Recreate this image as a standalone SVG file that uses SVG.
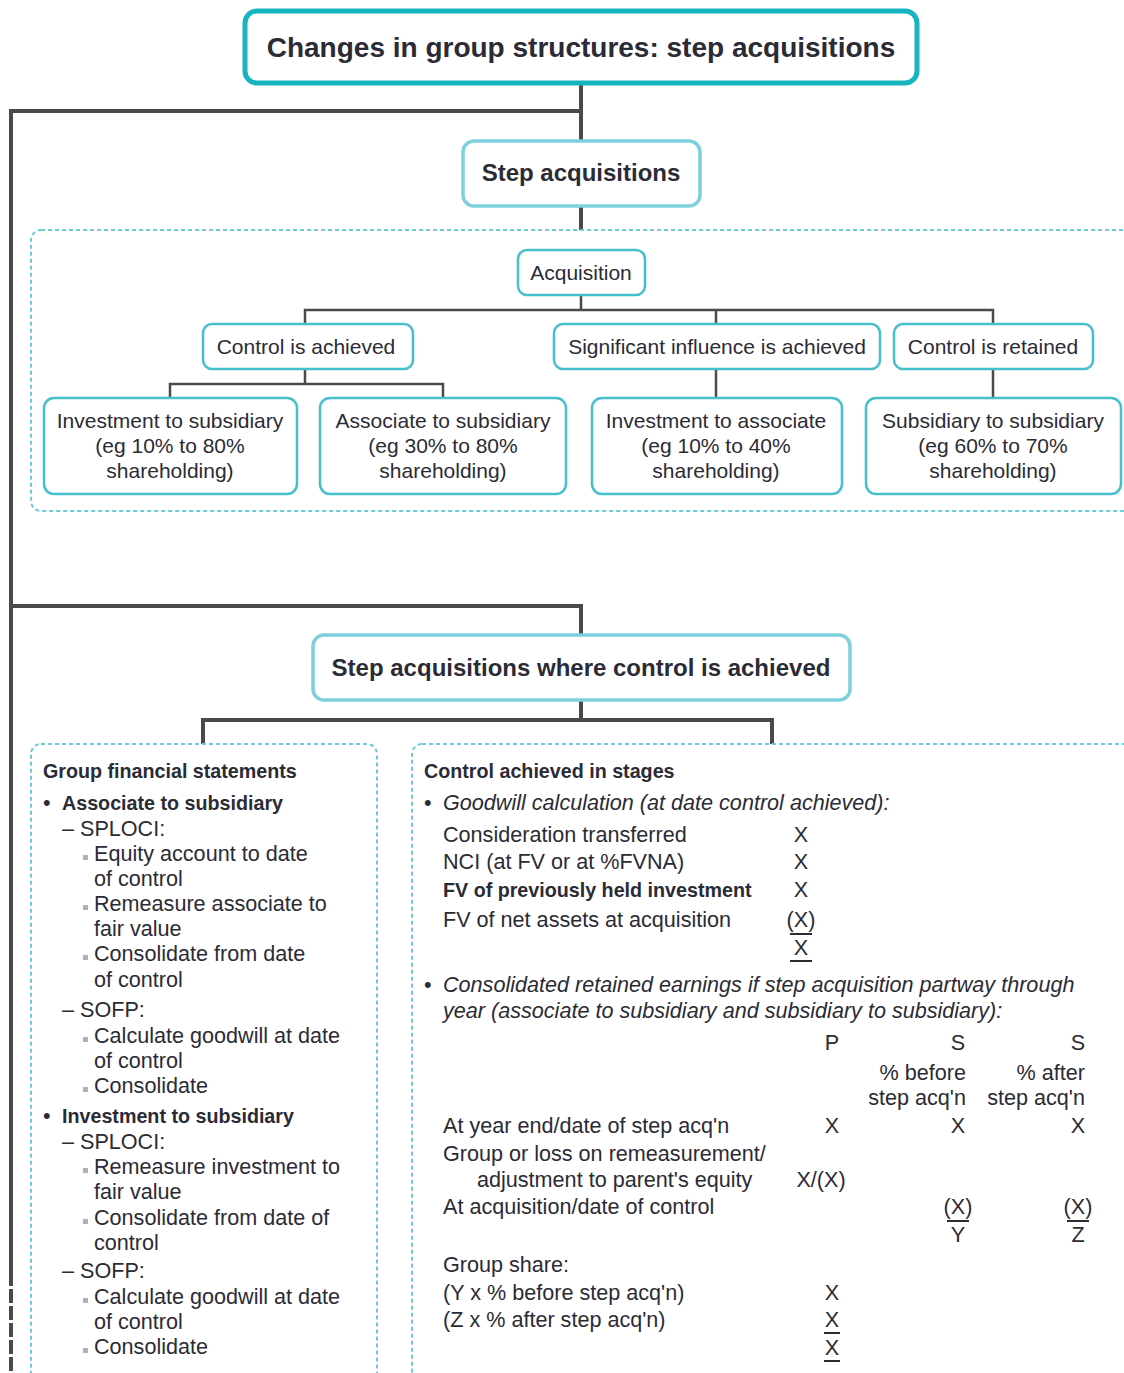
<svg xmlns="http://www.w3.org/2000/svg" width="1124" height="1373" viewBox="0 0 1124 1373">
<style>
text{font-family:"Liberation Sans",Arial,sans-serif;fill:#2b2b36;font-size:21px}
.b{font-weight:bold;font-size:20px}
.h{font-weight:bold;font-size:24px}
.tt{font-weight:bold;font-size:28px}
.p text{font-size:21.6px}
.p .b{font-size:19.7px}
.i{font-style:italic}
.m{text-anchor:middle}
.e{text-anchor:end}
.ttl{fill:#fff;stroke:#17b3bf;stroke-width:5}
.hd{fill:#fff;stroke:#7ed0db;stroke-width:3.5}
.nd{fill:#fff;stroke:#45bfca;stroke-width:2.5}
.ct{fill:none;stroke:#6ccbd7;stroke-width:2;stroke-dasharray:4 3}
.cn{fill:none;stroke:#4a4a4a}
.ul{stroke:#2b2b36;stroke-width:2}
.sq{fill:#b0b0b8}
</style>
<rect width="1124" height="1373" fill="#fff"/>
<g id="connectors">
<path class="cn" stroke-width="4" d="M581,84V140M581,111H11V1272M581,206V230M11,606H581V634M581,700V720M203,744V720H772V744"/>
<path class="cn" stroke-width="4" stroke-dasharray="14 3" d="M11,1272V1373"/>
<path class="cn" stroke-width="2.5" d="M581,295V310M305,324V310H993V324M716,310V324M305,369V384M170,398V384H443V398M716,369V398M993,369V398"/>
</g>
<g id="container-types"><rect class="ct" x="31" y="230" width="1112" height="281" rx="10"/></g>
<g id="container-group"><rect class="ct" x="31" y="744" width="346" height="660" rx="10"/></g>
<g id="container-stages"><rect class="ct" x="412" y="744" width="730" height="660" rx="10"/></g>
<g id="title"><rect class="ttl" x="245" y="11" width="672" height="72" rx="12"/><text class="tt m" x="581" y="57">Changes in group structures: step acquisitions</text></g>
<g id="step-acq"><rect class="hd" x="463" y="141" width="237" height="65" rx="11"/><text class="h m" x="581" y="181">Step acquisitions</text></g>
<g id="acquisition"><rect class="nd" x="518" y="250" width="127" height="45" rx="9"/><text class="m" x="581" y="280">Acquisition</text></g>
<g id="control-achieved"><rect class="nd" x="203" y="324" width="210" height="45" rx="9"/><text class="m" x="306" y="354">Control is achieved</text></g>
<g id="sig-influence"><rect class="nd" x="554" y="324" width="326" height="45" rx="9"/><text class="m" x="717" y="354">Significant influence is achieved</text></g>
<g id="control-retained"><rect class="nd" x="894" y="324" width="199" height="45" rx="9"/><text class="m" x="993" y="354">Control is retained</text></g>
<g id="inv-sub"><rect class="nd" x="44" y="398" width="253" height="96" rx="10"/><text class="m" x="170" y="428">Investment to subsidiary</text><text class="m" x="170" y="453">(eg 10% to 80%</text><text class="m" x="170" y="478">shareholding)</text></g>
<g id="assoc-sub"><rect class="nd" x="320" y="398" width="246" height="96" rx="10"/><text class="m" x="443" y="428">Associate to subsidiary</text><text class="m" x="443" y="453">(eg 30% to 80%</text><text class="m" x="443" y="478">shareholding)</text></g>
<g id="inv-assoc"><rect class="nd" x="592" y="398" width="250" height="96" rx="10"/><text class="m" x="716" y="428">Investment to associate</text><text class="m" x="716" y="453">(eg 10% to 40%</text><text class="m" x="716" y="478">shareholding)</text></g>
<g id="sub-sub"><rect class="nd" x="866" y="398" width="255" height="96" rx="10"/><text class="m" x="993" y="428">Subsidiary to subsidiary</text><text class="m" x="993" y="453">(eg 60% to 70%</text><text class="m" x="993" y="478">shareholding)</text></g>
<g id="step-control"><rect class="hd" x="313" y="635" width="537" height="65" rx="11"/><text class="h m" x="581" y="676">Step acquisitions where control is achieved</text></g>
<g id="group-fs" class="p">
<text class="b" x="43" y="778">Group financial statements</text>
<text x="43" y="810">•</text><text class="b" x="62" y="810">Associate to subsidiary</text>
<text x="62" y="836">– SPLOCI:</text>
<rect class="sq" x="83" y="855" width="5" height="5"/><text x="94" y="861">Equity account to date</text>
<text x="94" y="886">of control</text>
<rect class="sq" x="83" y="905" width="5" height="5"/><text x="94" y="911">Remeasure associate to</text>
<text x="94" y="936">fair value</text>
<rect class="sq" x="83" y="955" width="5" height="5"/><text x="94" y="961">Consolidate from date</text>
<text x="94" y="987">of control</text>
<text x="62" y="1017">– SOFP:</text>
<rect class="sq" x="83" y="1037" width="5" height="5"/><text x="94" y="1043">Calculate goodwill at date</text>
<text x="94" y="1068">of control</text>
<rect class="sq" x="83" y="1087" width="5" height="5"/><text x="94" y="1093">Consolidate</text>
<text x="43" y="1123">•</text><text class="b" x="62" y="1123">Investment to subsidiary</text>
<text x="62" y="1149">– SPLOCI:</text>
<rect class="sq" x="83" y="1168" width="5" height="5"/><text x="94" y="1174">Remeasure investment to</text>
<text x="94" y="1199">fair value</text>
<rect class="sq" x="83" y="1219" width="5" height="5"/><text x="94" y="1225">Consolidate from date of</text>
<text x="94" y="1250">control</text>
<text x="62" y="1278">– SOFP:</text>
<rect class="sq" x="83" y="1298" width="5" height="5"/><text x="94" y="1304">Calculate goodwill at date</text>
<text x="94" y="1329">of control</text>
<rect class="sq" x="83" y="1348" width="5" height="5"/><text x="94" y="1354">Consolidate</text>
</g>
<g id="control-stages" class="p">
<text class="b" x="424" y="778">Control achieved in stages</text>
<text x="424" y="810">•</text><text class="i" x="443" y="810">Goodwill calculation (at date control achieved):</text>
<text x="443" y="842">Consideration transferred</text><text class="m" x="801" y="842">X</text>
<text x="443" y="869">NCI (at FV or at %FVNA)</text><text class="m" x="801" y="869">X</text>
<text class="b" x="443" y="897">FV of previously held investment</text><text class="m" x="801" y="897">X</text>
<text x="443" y="927">FV of net assets at acquisition</text><text class="m" x="801" y="927">(X)</text>
<line class="ul" x1="790" y1="934" x2="812" y2="934"/>
<text class="m" x="801" y="955">X</text>
<line class="ul" x1="790" y1="961" x2="812" y2="961"/>
<text x="424" y="992">•</text><text class="i" x="443" y="992">Consolidated retained earnings if step acquisition partway through</text>
<text class="i" x="443" y="1018">year (associate to subsidiary and subsidiary to subsidiary):</text>
<text class="m" x="832" y="1050">P</text><text class="m" x="958" y="1050">S</text><text class="m" x="1078" y="1050">S</text>
<text class="e" x="966" y="1080">% before</text><text class="e" x="1085" y="1080">% after</text>
<text class="e" x="966" y="1105">step acq'n</text><text class="e" x="1085" y="1105">step acq'n</text>
<text x="443" y="1133">At year end/date of step acq'n</text><text class="m" x="832" y="1133">X</text><text class="m" x="958" y="1133">X</text><text class="m" x="1078" y="1133">X</text>
<text x="443" y="1161">Group or loss on remeasurement/</text>
<text x="477" y="1187">adjustment to parent's equity</text><text class="m" x="821" y="1187">X/(X)</text>
<text x="443" y="1214">At acquisition/date of control</text><text class="m" x="958" y="1214">(X)</text><text class="m" x="1078" y="1214">(X)</text>
<line class="ul" x1="947" y1="1221" x2="969" y2="1221"/><line class="ul" x1="1067" y1="1221" x2="1089" y2="1221"/>
<text class="m" x="958" y="1242">Y</text><text class="m" x="1078" y="1242">Z</text>
<text x="443" y="1272">Group share:</text>
<text x="443" y="1300">(Y x % before step acq'n)</text><text class="m" x="832" y="1300">X</text>
<text x="443" y="1327">(Z x % after step acq'n)</text><text class="m" x="832" y="1327">X</text>
<line class="ul" x1="824" y1="1333" x2="840" y2="1333"/>
<text class="m" x="832" y="1355">X</text>
<line class="ul" x1="824" y1="1361" x2="840" y2="1361"/>
</g>
</svg>
